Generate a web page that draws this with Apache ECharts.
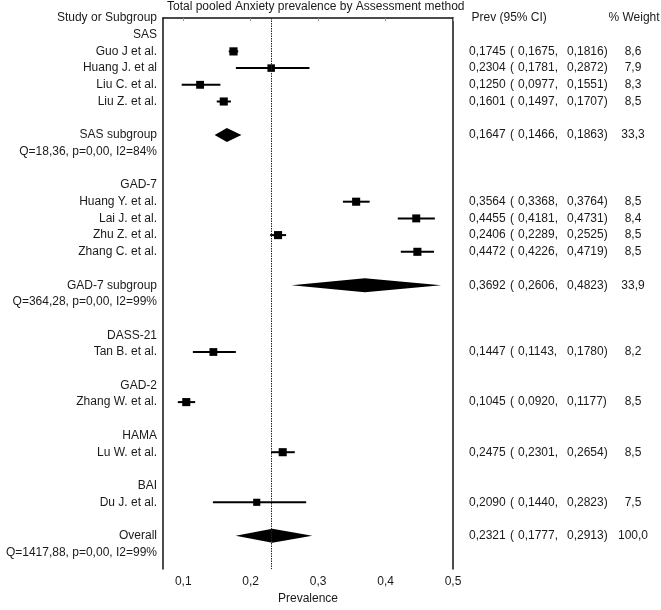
<!DOCTYPE html>
<html><head><meta charset="utf-8">
<script src="https://cdn.jsdelivr.net/npm/echarts@6/dist/echarts.min.js"></script>
<style>html,body{margin:0;padding:0;background:#fff}#c{width:661px;height:610px}</style>
</head><body><div id="c"></div>
<script>
// ---- data ----
const rowLabels = [
  "Study or Subgroup","SAS","Guo J et al.","Huang J. et al","Liu C. et al.","Liu Z. et al.","",
  "SAS subgroup","Q=18,36, p=0,00, I2=84%","",
  "GAD-7","Huang Y. et al.","Lai J. et al.","Zhu Z. et al.","Zhang C. et al.","",
  "GAD-7 subgroup","Q=364,28, p=0,00, I2=99%","",
  "DASS-21","Tan B. et al.","",
  "GAD-2","Zhang W. et al.","",
  "HAMA","Lu W. et al.","",
  "BAI","Du J. et al.","",
  "Overall","Q=1417,88, p=0,00, I2=99%",""
];
const studyNames = ["Guo J et al.","Huang J. et al","Liu C. et al.","Liu Z. et al.","Huang Y. et al.","Lai J. et al.","Zhu Z. et al.","Zhang C. et al.","Tan B. et al.","Zhang W. et al.","Lu W. et al.","Du J. et al."];
const studyEst  = [0.1745,0.2304,0.1250,0.1601,0.3564,0.4455,0.2406,0.4472,0.1447,0.1045,0.2475,0.2090];
const studyLow  = [0.1675,0.1781,0.0977,0.1497,0.3368,0.4181,0.2289,0.4226,0.1143,0.0920,0.2301,0.1440];
const studyHigh = [0.1816,0.2872,0.1551,0.1707,0.3764,0.4731,0.2525,0.4719,0.1780,0.1177,0.2654,0.2823];
const studyWeight = [8.6,7.9,8.3,8.5,8.5,8.4,8.5,8.5,8.2,8.5,8.5,7.5];
const poolNames  = ["SAS subgroup","GAD-7 subgroup","Overall"];
const poolEst    = [0.1647,0.3692,0.2321];
const poolLow    = [0.1466,0.2606,0.1777];
const poolHigh   = [0.1863,0.4823,0.2913];
const poolWeight = [33.3,33.9,100.0];
const xTicks = [0.1,0.2,0.3,0.4,0.5];
const titleText = "Total pooled Anxiety prevalence by Assessment method";
const colHeaders = ["Prev (95% CI)", "% Weight"];

// ---- chart ----
const FONT = "'Liberation Sans', Arial, sans-serif";
const TXT = '#1a1a1a';
const fmt4 = v => v.toFixed(4).replace('.', ',');
const fmt1 = v => v.toFixed(1).replace('.', ',');
const rowOf = n => rowLabels.indexOf(n);

const studyData = studyNames.map((n,i)=>[studyLow[i], studyHigh[i], rowOf(n)]);
const squareData = studyNames.map((n,i)=>[studyEst[i], rowOf(n), studyWeight[i]]);
const diamondData = poolNames.map((n,i)=>[poolLow[i], poolEst[i], poolHigh[i], rowOf(n)]);
const allNames = studyNames.concat(poolNames);
const allEst = studyEst.concat(poolEst), allLow = studyLow.concat(poolLow),
      allHigh = studyHigh.concat(poolHigh), allW = studyWeight.concat(poolWeight);
const tableData = [[0, -1, 0]].concat(allNames.map((n,i)=>[allEst[i], rowOf(n), i]));

const chart = echarts.init(document.getElementById('c'), null, {renderer:'canvas'});
const txtStyle = (text, x, y, align) => ({
  type:'text', style:{text, x, y, textAlign:align, textVerticalAlign:'middle',
    font:'12px ' + FONT, fill:TXT}
});
chart.setOption({
  animation:false,
  title:{text:titleText, left:167, top:1, padding:0,
    textStyle:{fontSize:12, fontWeight:'normal', color:TXT, fontFamily:FONT}},
  grid:{left:163, right:208, top:18, bottom:34, containLabel:false},
  xAxis:{type:'value', min:0.07, max:0.5,
    name:'Prevalence', nameLocation:'middle', nameGap:20,
    nameTextStyle:{fontSize:12, color:TXT, fontFamily:FONT},
    axisLine:{show:true, lineStyle:{color:'#111', width:1.5}},
    axisTick:{show:true, length:3, lineStyle:{color:'#999'}, customValues:xTicks},
    axisLabel:{customValues:xTicks, margin:7, fontSize:12, color:TXT, fontFamily:FONT,
      formatter:v=>String(Math.round(v*10)/10).replace('.', ',')},
    splitLine:{show:false}},
  yAxis:[{type:'value', min:0, max:rowLabels.length-1, interval:1, inverse:true,
    axisLine:{show:true, lineStyle:{color:'#111', width:1.5}},
    axisTick:{show:false}, splitLine:{show:false},
    axisLabel:{margin:6, fontSize:12, color:TXT, fontFamily:FONT,
      formatter:v=>rowLabels[v] || ''}},
   {type:'value', min:0, max:rowLabels.length-1, inverse:true, position:'right',
    axisLine:{show:true, lineStyle:{color:'#111', width:1.5}},
    axisTick:{show:false}, splitLine:{show:false}, axisLabel:{show:false}}],
  series:[
    {type:'custom', name:'ci', data:studyData, encode:{x:[0,1], y:2},
     renderItem:(p, api)=>{
       const a = api.coord([api.value(0), api.value(2)]);
       const b = api.coord([api.value(1), api.value(2)]);
       return {type:'line', shape:{x1:a[0], y1:a[1], x2:b[0], y2:b[1]},
         style:{stroke:'#000', lineWidth:2}};
     }},
    {type:'scatter', name:'est', data:squareData, symbol:'rect',
     symbolSize:v=>v[2]*0.95, itemStyle:{color:'#000', opacity:1}, z:3,
     markLine:{silent:true, symbol:['none','none'], label:{show:false},
       lineStyle:{type:[1.5,1], color:'#222', width:1, opacity:1},
       data:[{xAxis:poolEst[2]}]}},
    {type:'custom', name:'pooled', data:diamondData, encode:{x:[0,1,2], y:3}, z:2,
     renderItem:(p, api)=>{
       const r = api.value(3), h = 7;
       const L = api.coord([api.value(0), r]), C = api.coord([api.value(1), r]),
             R = api.coord([api.value(2), r]);
       return {type:'polygon', shape:{points:[[L[0],L[1]],[C[0],C[1]-h],[R[0],R[1]],[C[0],C[1]+h]]},
         style:{fill:'#000'}};
     }},
    {type:'custom', name:'table', data:tableData, encode:{y:1}, clip:false, silent:true,
     renderItem:(p, api)=>{
       const y = api.coord([0.3, api.value(1)])[1];
       const i = api.value(2);
       if (p.dataIndex === 0) {
         const y0 = api.coord([0.3, 0])[1];
         return {type:'group', children:[
           txtStyle(colHeaders[0], 471.5, y0, 'left'),
           txtStyle(colHeaders[1], 634, y0, 'center')]};
       }
       return {type:'group', children:[
         txtStyle(fmt4(allEst[i]), 469, y, 'left'),
         txtStyle('(', 510, y, 'left'),
         txtStyle(fmt4(allLow[i]) + ',', 518, y, 'left'),
         txtStyle(fmt4(allHigh[i]) + ')', 567, y, 'left'),
         txtStyle(fmt1(allW[i]), 633, y, 'center')]};
     }}
  ]
});
</script></body></html>
